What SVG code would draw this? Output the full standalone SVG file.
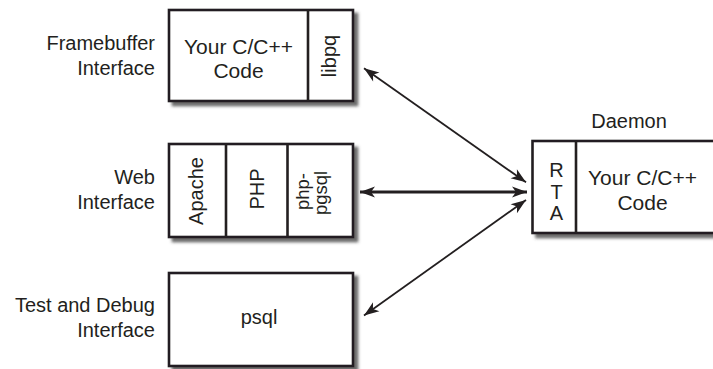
<svg xmlns="http://www.w3.org/2000/svg" width="713" height="369" viewBox="0 0 713 369">
  <style>
    text { font-family: "Liberation Sans", Arial, sans-serif; font-size: 20px; fill: #231f20; }
    .lbl { text-anchor: end; }
    .mid { text-anchor: middle; }
    .big { font-size: 21px; }
    .sm { font-size: 18.5px; }
    .box { fill: #fff; stroke: #231f20; stroke-width: 2.6; }
    .div { stroke: #231f20; stroke-width: 2.6; }
    .conn { stroke: #231f20; fill: none; }
  </style>
  <defs>
    <filter id="sh" x="-10%" y="-10%" width="130%" height="130%">
      <feDropShadow dx="4" dy="4" stdDeviation="1.8" flood-color="#444" flood-opacity="0.8"/>
    </filter>
    <marker id="ah" viewBox="-16 -6 17 12" refX="0" refY="0" markerWidth="17" markerHeight="12" markerUnits="userSpaceOnUse" orient="auto-start-reverse">
      <path d="M0,0 L-15,-5.5 L-11,0 L-15,5.5 Z" fill="#231f20"/>
    </marker>
  </defs>

  <!-- labels -->
  <g id="label-framebuffer">
    <text class="lbl" x="155" y="50">Framebuffer</text>
    <text class="lbl" x="155" y="75">Interface</text>
  </g>
  <g id="label-web">
    <text class="lbl" x="155" y="183.5">Web</text>
    <text class="lbl" x="155" y="209">Interface</text>
  </g>
  <g id="label-test">
    <text class="lbl" x="155" y="311.5">Test and Debug</text>
    <text class="lbl" x="155" y="337">Interface</text>
  </g>

  <!-- Framebuffer node -->
  <g id="node-framebuffer">
    <rect class="box" x="169" y="10" width="184" height="91" filter="url(#sh)"/>
    <line class="div" x1="308" y1="10" x2="308" y2="101"/>
    <text class="mid big" x="238.5" y="53.5">Your C/C++</text>
    <text class="mid big" x="238.5" y="78">Code</text>
    <text class="mid" transform="translate(336,56) rotate(-90)">libpq</text>
  </g>

  <!-- Web node -->
  <g id="node-web">
    <rect class="box" x="169" y="144" width="184" height="93" filter="url(#sh)"/>
    <line class="div" x1="226" y1="144" x2="226" y2="237"/>
    <line class="div" x1="287.5" y1="144" x2="287.5" y2="237"/>
    <text class="mid" transform="translate(203,191) rotate(-90)">Apache</text>
    <text class="mid" transform="translate(264,189) rotate(-90)">PHP</text>
    <text class="mid sm" transform="translate(309,191.5) rotate(-90)">php-</text>
    <text class="mid sm" transform="translate(326.5,193) rotate(-90)">pgsql</text>
  </g>

  <!-- psql node -->
  <g id="node-psql">
    <rect class="box" x="169" y="273" width="184" height="93" filter="url(#sh)"/>
    <text class="mid" x="259" y="323.5">psql</text>
  </g>

  <!-- Daemon node -->
  <g id="node-daemon">
    <text class="mid" x="629" y="127.5">Daemon</text>
    <rect class="box" x="532.5" y="141" width="190" height="92" filter="url(#sh)"/>
    <line class="div" x1="576" y1="141" x2="576" y2="233"/>
    <text class="mid" x="556.5" y="176.5">R</text>
    <text class="mid" x="556.5" y="198.5">T</text>
    <text class="mid" x="556.5" y="220">A</text>
    <text class="mid big" x="642.5" y="185">Your C/C++</text>
    <text class="mid big" x="642.5" y="210">Code</text>
  </g>

  <!-- connectors -->
  <g id="connectors">
    <line class="conn" x1="364" y1="68.3" x2="526" y2="182.3" stroke-width="1.8" marker-start="url(#ah)" marker-end="url(#ah)"/>
    <line class="conn" x1="360" y1="192" x2="527" y2="192" stroke-width="2.8" marker-start="url(#ah)" marker-end="url(#ah)"/>
    <line class="conn" x1="364" y1="315.5" x2="526" y2="200" stroke-width="1.8" marker-start="url(#ah)" marker-end="url(#ah)"/>
  </g>
</svg>
